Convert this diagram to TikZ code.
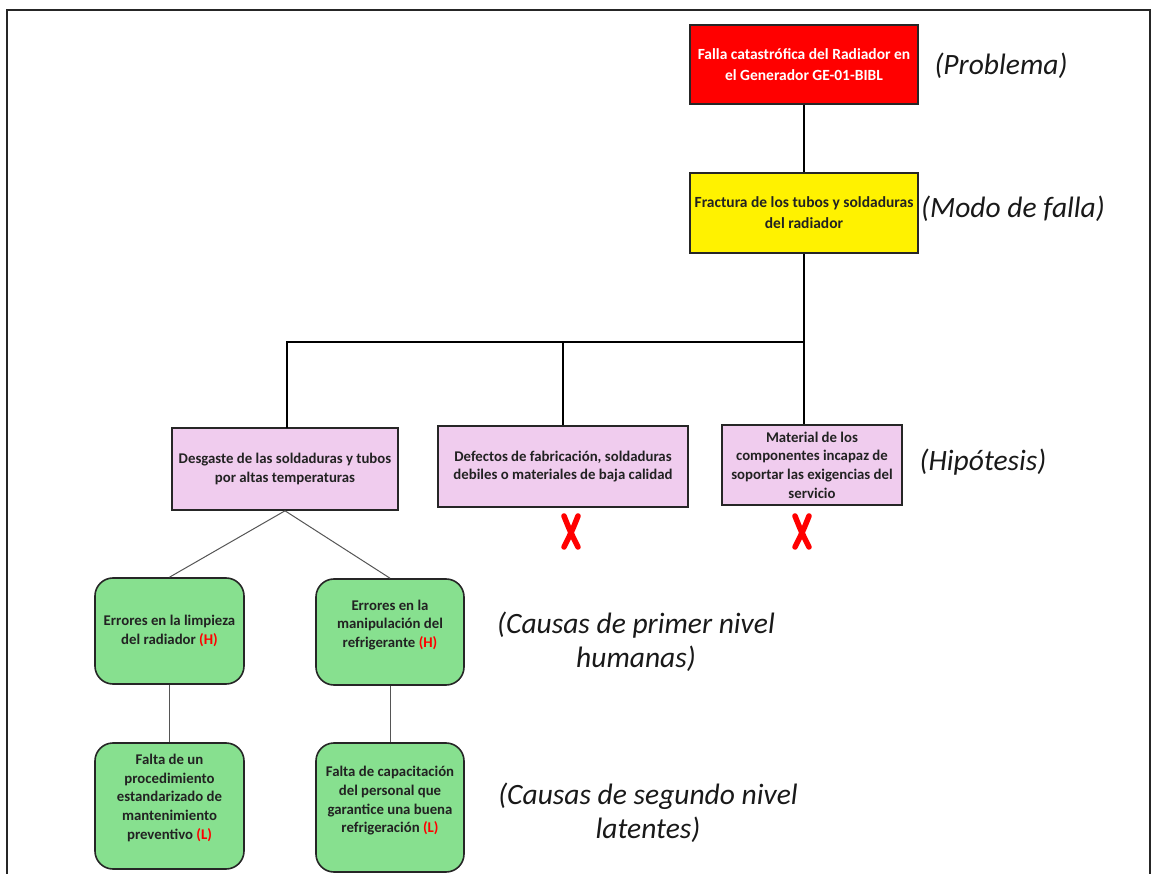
\documentclass[tikz,border=0pt]{standalone}
\usepackage{fontspec}
\setmainfont{Carlito}
\usetikzlibrary{calc}
\definecolor{pinkbox}{HTML}{F0CCEE}
\definecolor{greenbox}{HTML}{87E08F}
\definecolor{txt}{HTML}{222222}
\definecolor{thinline}{HTML}{555555}
\begin{document}
\begin{tikzpicture}[x=1pt,y=-1pt,
  box/.style={draw=black!85,line width=1.6pt,align=center,inner sep=2pt,
    font=\bfseries\fontsize{14.8}{18.7}\selectfont,text=txt},
  topbox/.style={box,font=\bfseries\fontsize{15.5}{21}\selectfont},
  hyp/.style={box,fill=pinkbox},
  cause/.style={box,fill=greenbox,rounded corners=18pt},
  lbl/.style={font=\itshape\fontsize{29.5}{34}\selectfont,align=center,text=black!90},
  main/.style={line width=2.6pt,black},
  thin/.style={line width=1pt,thinline},
  xmark/.style={red,line width=5.5pt,line cap=round}
]
\useasboundingbox (0,0) rectangle (1152,874);
\draw[line width=1.8pt,black!85] (7,874) -- (7,10) -- (1150,10) -- (1150,874);

\node[topbox,fill=red,text=white,minimum width=228pt,minimum height=79pt] (prob) at (804,64.5)
  {Falla catastrófica del Radiador en\\el Generador GE-01-BIBL};
\node[topbox,fill=yellow,minimum width=228pt,minimum height=80pt] (modo) at (804,213)
  {Fractura de los tubos y soldaduras\\del radiador};

\node[hyp,minimum width=226pt,minimum height=82pt] (h1) at (285,469)
  {Desgaste de las soldaduras y tubos\\por altas temperaturas};
\node[hyp,minimum width=250pt,minimum height=81pt] (h2) at (563,466.5)
  {Defectos de fabricación, soldaduras\\debiles o materiales de baja calidad};
\node[hyp,minimum width=180pt,minimum height=80pt] (h3) at (812,465)
  {Material de los\\componentes incapaz de\\soportar las exigencias del\\servicio};

\node[cause,minimum width=149pt,minimum height=106pt] (g1) at (169.5,631)
  {Errores en la limpieza\\del radiador {\color{red}(H)}};
\node[cause,minimum width=148pt,minimum height=106pt] (g2) at (390,632)
  {Errores en la\\manipulación del\\refrigerante {\color{red}(H)}\\[-2pt]\mbox{}};
\node[cause,minimum width=149pt,minimum height=126pt] (g3) at (169.5,806)
  {Falta de un\\procedimiento\\estandarizado de\\mantenimiento\\preventivo {\color{red}(L)}\\\mbox{}};
\node[cause,minimum width=148pt,minimum height=129pt] (g4) at (390,807.5)
  {Falta de capacitación\\del personal que\\garantice una buena\\refrigeración {\color{red}(L)}\\[-3pt]\mbox{}};

\node[lbl] (lp) at (1001,66) {(Problema)};
\node[lbl] (lm) at (1013,209) {(Modo de falla)};
\node[lbl] (lh) at (983,462) {(Hipótesis)};
\node[lbl] (l1) at (636,642) {(Causas de primer nivel\\humanas)};
\node[lbl] (l2) at (648,813) {(Causas de segundo nivel\\latentes)};

\coordinate (j) at (804,342);
\draw[main] (prob.south) -- (modo.north);
\draw[main] (modo.south) -- (j);
\draw[main] (j) -- (287,342) -- (287,428);
\draw[main] (j -| h2.north) -- (h2.north);
\draw[main] (j) -- (j |- h3.north);

\draw[thin] (h1.south) -- (g1.north);
\draw[thin] (h1.south) -- (g2.north);
\draw[thin] (g1.south) -- (g3.north);
\draw[thin] (g2.south) -- (g4.north);

\foreach \cx in {571,802}{
  \draw[xmark] (\cx-7,516) .. controls (\cx-1,531) .. (\cx+7,547);
  \draw[xmark] (\cx+7,516) .. controls (\cx+1,531) .. (\cx-7,547);
}
\end{tikzpicture}
\end{document}
